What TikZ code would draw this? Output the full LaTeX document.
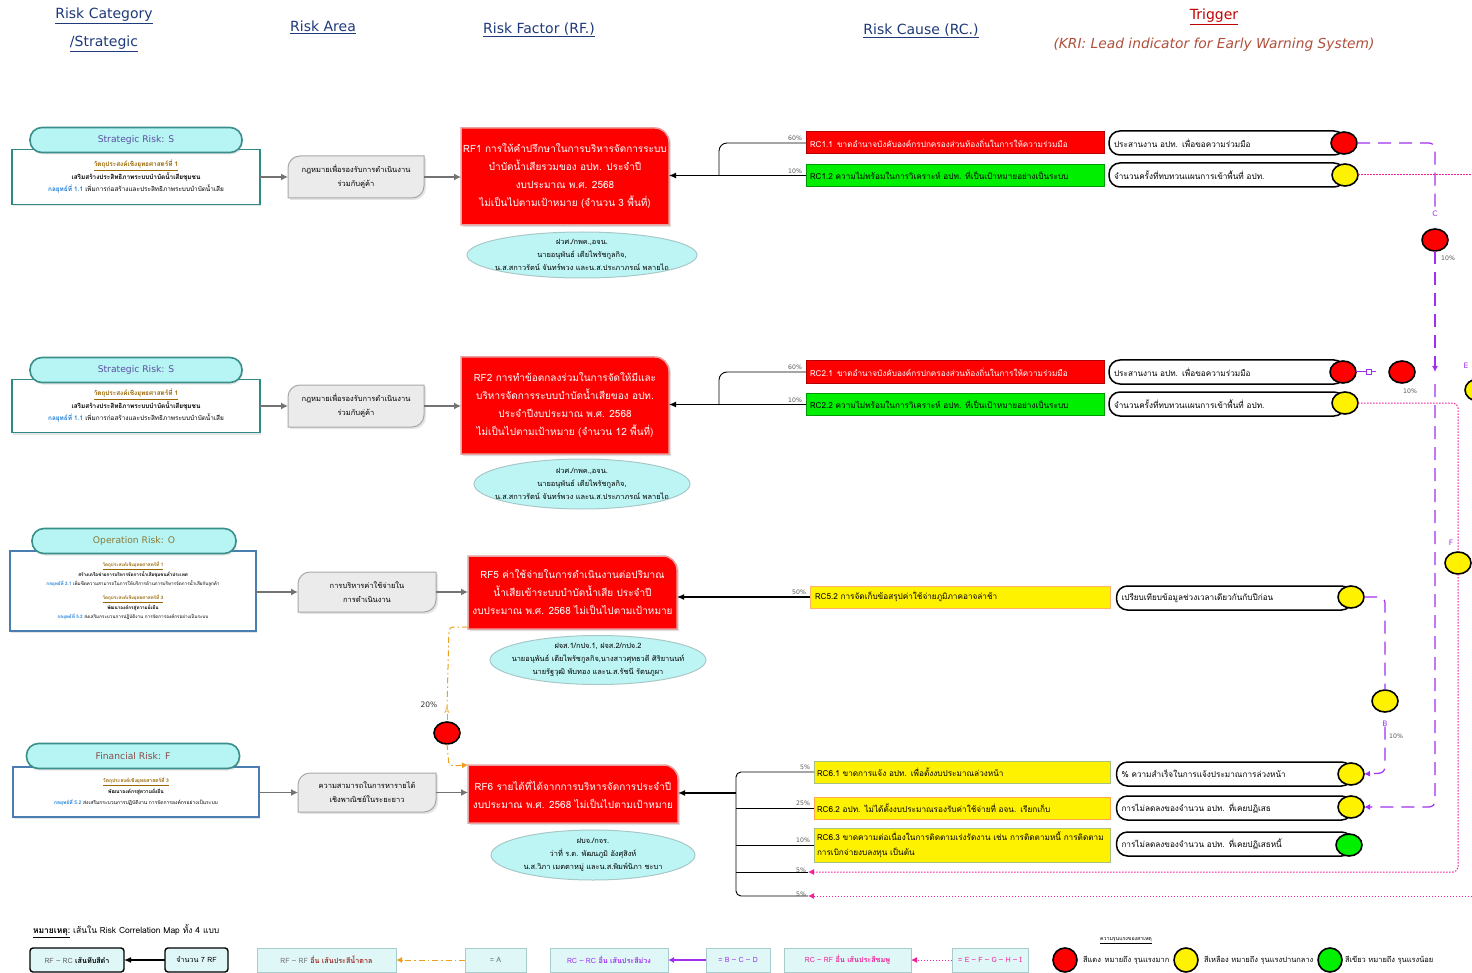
\documentclass[tikz,border=0pt]{standalone}
\usepackage{fontspec}
\setmainfont{Loma}[Script=Thai]
\newfontfamily\hfont{DejaVu Sans}
\usetikzlibrary{arrows.meta,shapes.geometric,shadows}
\definecolor{hdrblue}{HTML}{1F3A7A}
\definecolor{trigred}{HTML}{C00000}
\definecolor{kri}{HTML}{B0503C}
\definecolor{pillfill}{HTML}{B6F5F3}
\definecolor{pillborder}{HTML}{3A8F8A}
\definecolor{sboxborder}{HTML}{2E8A84}
\definecolor{oboxborder}{HTML}{4A7EB0}
\definecolor{objbrown}{HTML}{996600}
\definecolor{stratblue}{HTML}{1E7FD8}
\definecolor{areafill}{HTML}{EBEBEB}
\definecolor{areaborder}{HTML}{A8A8A8}
\definecolor{rfred}{HTML}{FF0000}
\definecolor{rfborder}{HTML}{E8A0A0}
\definecolor{ellfill}{HTML}{BDF5F5}
\definecolor{ellborder}{HTML}{A8C8C8}
\definecolor{rcgreen}{HTML}{00EE00}
\definecolor{cgreen}{HTML}{00F000}
\definecolor{lpurple}{HTML}{A030F0}
\definecolor{lpink}{HTML}{F0209A}
\definecolor{lorange}{HTML}{F0A020}
\definecolor{legfill}{HTML}{DFF7F7}
\definecolor{legborder}{HTML}{A8CCCC}
\definecolor{brownred}{HTML}{A0302A}
\definecolor{stxt}{HTML}{5E4FA2}
\definecolor{otxt}{HTML}{8A7A3A}
\definecolor{ftxt}{HTML}{8B4A4A}
\definecolor{olivebd}{HTML}{A8C080}
\pgfdeclarelayer{bg}
\pgfdeclarelayer{bgbottom}
\pgfsetlayers{bgbottom,bg,main}
\newcommand\rfshape[1]{\path[fill=rfred,draw=rfborder,line width=1.5pt,drop shadow={opacity=0.25,shadow xshift=2pt,shadow yshift=-2pt}] (#1.south west) -- (#1.north west) -- ([xshift=-14pt]#1.north east) arc[start angle=90,end angle=0,radius=14pt] -- (#1.south east) -- cycle;}
\newcommand\areashape[1]{\path[fill=areafill,draw=areaborder,line width=1pt,drop shadow={opacity=0.2,shadow xshift=2pt,shadow yshift=-2pt}] (#1.south west) -- ([yshift=-12pt]#1.north west) arc[start angle=180,end angle=90,radius=12pt] -- (#1.north east) -- ([yshift=12pt]#1.south east) arc[start angle=0,end angle=-90,radius=12pt] -- cycle;}
\tikzset{
 hdr/.style={font=\hfont\fontsize{14}{16}\selectfont,text=hdrblue},
 pill/.style={draw=pillborder,line width=1.6pt,fill=pillfill,rounded corners=12pt,minimum width=212pt,minimum height=25pt,font=\hfont\fontsize{9.2}{11}\selectfont,drop shadow={opacity=0.2,shadow xshift=1pt,shadow yshift=-2pt}},
 sbox/.style={draw=sboxborder,line width=1.4pt,fill=white,align=center,font=\fontsize{6.4}{12.5}\selectfont,drop shadow={opacity=0.2,shadow xshift=1pt,shadow yshift=-2pt}},
 obox/.style={sbox,draw=oboxborder,font=\fontsize{4.6}{9.6}\selectfont},
 area/.style={align=center,font=\fontsize{7.5}{14}\selectfont,minimum width=136pt,minimum height=42pt},
 rftext/.style={align=center,text=white,font=\fontsize{10}{18}\selectfont},
 ell/.style={ellipse,fill=ellfill,draw=ellborder,line width=1pt},
 elltext/.style={align=center,font=\fontsize{7.4}{13}\selectfont},
 rcbox/.style={draw=black!25,line width=1pt,minimum height=22pt,minimum width=298pt,text width=290pt,align=left,font=\fontsize{8.2}{15}\selectfont},
 trig/.style={draw=black,line width=1.5pt,fill=white,rounded corners=11pt,minimum width=236pt,minimum height=24pt,text width=226pt,align=left,font=\fontsize{8.2}{10}\selectfont},
 tc/.style={ellipse,draw=black,line width=1.6pt,minimum width=26pt,minimum height=22pt},
 pct/.style={font=\hfont\fontsize{6.2}{7}\selectfont,text=black!65},
 garrow/.style={draw=black!55,line width=1.2pt,-{Latex[length=7pt,width=7pt]}},
 barrow/.style={draw=black,line width=1.2pt,-{Latex[length=7pt,width=6pt]}},
 bline/.style={draw=black,line width=0.9pt},
 purp/.style={draw=lpurple,line width=1.2pt,dash pattern=on 13pt off 8pt},
 pinkd/.style={draw=lpink,line width=1pt,dash pattern=on 1.5pt off 1.5pt},
 orng/.style={draw=lorange,line width=1pt,dash pattern=on 6pt off 3pt on 1.5pt off 3pt},
 leg/.style={fill=legfill,draw=legborder,line width=1pt,minimum height=24pt,font=\fontsize{7.2}{8}\selectfont},
 lbl/.style={font=\hfont\fontsize{7.5}{8}\selectfont},
 sevtext/.style={anchor=west,font=\fontsize{7.5}{8}\selectfont},
}
\begin{document}
\begin{tikzpicture}[x=1pt,y=-1pt,every node/.style={inner sep=0pt,outer sep=0pt}]
\useasboundingbox (0,0) rectangle (1472,973);
\begin{pgfonlayer}{bgbottom}\fill[white] (0,0) rectangle (1472,973);\end{pgfonlayer}
% headers
\node[hdr] (h1) at (104,16) {\underline{Risk Category}};
\node[hdr] (h1b) at (104,44) {\underline{/Strategic}};
\node[hdr] (h2) at (323,27) {\underline{Risk Area}};
\node[hdr] (h3) at (539,30) {\underline{Risk Factor (RF.)}};
\node[hdr] (h4) at (921,31) {\underline{Risk Cause (RC.)}};
\node[hdr,text=trigred] (h5) at (1214,17) {\underline{Trigger}};
\node[hdr,text=kri,font=\hfont\itshape\fontsize{13.8}{16}\selectfont] (h5b) at (1214,45) {(KRI: Lead indicator for Early Warning System)};

% ---------- row 1
\node[sbox,minimum width=248pt,minimum height=55pt] (sb1) at (136,177) {\textcolor{objbrown}{\textbf{\underline{วัตถุประสงค์เชิงยุทธศาสตร์ที่ 1}}}\\ \textbf{เสริมสร้างประสิทธิภาพระบบบำบัดน้ำเสียชุมชน}\\ \textcolor{stratblue}{\textbf{กลยุทธ์ที่ 1.1}} เพิ่มการก่อสร้างและประสิทธิภาพระบบบำบัดน้ำเสีย};
\node[pill,text=stxt] (sp1) at (136,140) {Strategic Risk: S};
\node[area] (ra1) at (356,177) {กฎหมายเพื่อรองรับการดำเนินงาน\\ร่วมกับคู่ค้า};
\node[rftext,minimum width=208pt,minimum height=97pt] (rf1) at (565,176.5) {RF1 การให้คำปรึกษาในการบริหารจัดการระบบ\\บำบัดน้ำเสียรวมของ อปท. ประจำปี\\งบประมาณ พ.ศ. 2568\\ไม่เป็นไปตามเป้าหมาย (จำนวน 3 พื้นที่)};
\node[ell,minimum width=230pt,minimum height=46pt] (e1) at (582,255) {};
\node[elltext] (e1t) at (582,255) {ฝวศ./กพค.,อจน.\\นายอนุพันธ์ เตียไพรัชกูลกิจ,\\น.ส.สกาวรัตน์ จันทร์พวง และน.ส.ประภาภรณ์ พลายไถ};
\begin{pgfonlayer}{bg}\areashape{ra1}\rfshape{rf1}\end{pgfonlayer}
\draw[garrow] (sb1.east) -- (ra1.west);
\draw[garrow] (ra1.east) -- (ra1.east -| rf1.west);

\node[rcbox,fill=rfred,draw=red!70!black,text=white] (rc11) at (955,143) {RC1.1\enspace ขาดอำนาจบังคับองค์กรปกครองส่วนท้องถิ่นในการให้ความร่วมมือ};
\node[rcbox,fill=rcgreen,draw=green!60!black] (rc12) at (955,175.5) {RC1.2 ความไม่พร้อมในการวิเคราะห์ อปท. ที่เป็นเป้าหมายอย่างเป็นระบบ};
\coordinate (j1) at (719,176);
\draw[bline,rounded corners=8pt] (rc11.west) -| (j1);
\draw[barrow] (rc12.west) -- (rc12.west -| rf1.east);
\node[pct,anchor=south east] (p11) at ([xshift=-4pt,yshift=2pt]rc11.west) {60\%};
\node[pct,anchor=south east] (p12) at ([xshift=-4pt,yshift=2pt]rc12.west) {10\%};

\node[trig] (t11) at (1227,143) {ประสานงาน อปท. เพื่อขอความร่วมมือ};
\node[tc,fill=red] (c11) at (1344,143) {};
\node[trig] (t12) at (1227,175) {จำนวนครั้งที่ทบทวนแผนการเข้าพื้นที่ อปท.};
\node[tc,fill=yellow] (c12) at (1345,175) {};

% ---------- row 2
\node[sbox,minimum width=248pt,minimum height=53pt] (sb2) at (136,406) {\textcolor{objbrown}{\textbf{\underline{วัตถุประสงค์เชิงยุทธศาสตร์ที่ 1}}}\\ \textbf{เสริมสร้างประสิทธิภาพระบบบำบัดน้ำเสียชุมชน}\\ \textcolor{stratblue}{\textbf{กลยุทธ์ที่ 1.1}} เพิ่มการก่อสร้างและประสิทธิภาพระบบบำบัดน้ำเสีย};
\node[pill,text=stxt] (sp2) at (136,370) {Strategic Risk: S};
\node[area] (ra2) at (356,406) {กฎหมายเพื่อรองรับการดำเนินงาน\\ร่วมกับคู่ค้า};
\node[rftext,minimum width=208pt,minimum height=97pt] (rf2) at (565,405.5) {RF2 การทำข้อตกลงร่วมในการจัดให้มีและ\\บริหารจัดการระบบบำบัดน้ำเสียของ อปท.\\ประจำปีงบประมาณ พ.ศ. 2568\\ไม่เป็นไปตามเป้าหมาย (จำนวน 12 พื้นที่)};
\node[ell,minimum width=216pt,minimum height=50pt] (e2) at (582,484) {};
\node[elltext] (e2t) at (582,484) {ฝวศ./กพค.,อจน.\\นายอนุพันธ์ เตียไพรัชกูลกิจ,\\น.ส.สกาวรัตน์ จันทร์พวง และน.ส.ประภาภรณ์ พลายไถ};
\begin{pgfonlayer}{bg}\areashape{ra2}\rfshape{rf2}\end{pgfonlayer}
\draw[garrow] (sb2.east) -- (ra2.west);
\draw[garrow] (ra2.east) -- (ra2.east -| rf2.west);

\node[rcbox,fill=rfred,draw=red!70!black,text=white] (rc21) at (955,372) {RC2.1\enspace ขาดอำนาจบังคับองค์กรปกครองส่วนท้องถิ่นในการให้ความร่วมมือ};
\node[rcbox,fill=rcgreen,draw=green!60!black] (rc22) at (955,404.5) {RC2.2 ความไม่พร้อมในการวิเคราะห์ อปท. ที่เป็นเป้าหมายอย่างเป็นระบบ};
\coordinate (j2) at (719,405);
\draw[bline,rounded corners=8pt] (rc21.west) -| (j2);
\draw[barrow] (rc22.west) -- (rc22.west -| rf2.east);
\node[pct,anchor=south east] (p21) at ([xshift=-4pt,yshift=2pt]rc21.west) {60\%};
\node[pct,anchor=south east] (p22) at ([xshift=-4pt,yshift=2pt]rc22.west) {10\%};

\node[trig] (t21) at (1227,372) {ประสานงาน อปท. เพื่อขอความร่วมมือ};
\node[tc,fill=red] (c21) at (1343,372) {};
\node[trig] (t22) at (1227,404) {จำนวนครั้งที่ทบทวนแผนการเข้าพื้นที่ อปท.};
\node[tc,fill=yellow] (c22) at (1345,403) {};

% ---------- row 3 (operation)
\node[obox,minimum width=246pt,minimum height=80pt] (ob) at (133,591) {\textcolor{objbrown}{\textbf{\underline{วัตถุประสงค์เชิงยุทธศาสตร์ที่ 1}}}\\ \textbf{สร้างเครือข่ายการบริหารจัดการน้ำเสียชุมชนทั่วประเทศ}\\ \textcolor{stratblue}{\textbf{กลยุทธ์ที่ 2.1}} เพิ่มขีดความสามารถในการให้บริการด้านการบริหารจัดการน้ำเสียกับลูกค้า\\[4pt] \textcolor{objbrown}{\textbf{\underline{วัตถุประสงค์เชิงยุทธศาสตร์ที่ 3}}}\\ \textbf{พัฒนาองค์กรสู่ความยั่งยืน}\\ \textcolor{stratblue}{\textbf{กลยุทธ์ที่ 5.2}} ส่งเสริมกระบวนการปฏิบัติงาน การจัดการองค์กรอย่างเป็นระบบ};
\node[pill,text=otxt,minimum width=204pt] (op) at (134,541) {Operation Risk: O};
\node[area,minimum width=138pt,minimum height=40pt] (ra5) at (367,592) {การบริหารค่าใช้จ่ายใน\\การดำเนินงาน};
\node[rftext,minimum width=209pt,minimum height=73pt] (rf5) at (572.5,592.5) {RF5 ค่าใช้จ่ายในการดำเนินงานต่อปริมาณ\\น้ำเสียเข้าระบบบำบัดน้ำเสีย ประจำปี\\งบประมาณ พ.ศ. 2568 ไม่เป็นไปตามเป้าหมาย};
\node[ell,minimum width=216pt,minimum height=49pt] (e5) at (598,660) {};
\node[elltext] (e5t) at (598,660) {ฝจส.1/กปจ.1, ฝจส.2/กปจ.2\\นายอนุพันธ์ เตียไพรัชกูลกิจ,นางสาวศุทธวดี ศิริยานนท์\\นายรัฐวุฒิ พับทอง และน.ส.รัชนี รัตนภูผา};
\begin{pgfonlayer}{bg}\areashape{ra5}\rfshape{rf5}\end{pgfonlayer}
\draw[garrow] (ob.east |- ra5.west) -- (ra5.west);
\draw[garrow] (ra5.east) -- (ra5.east -| rf5.west);

\node[rcbox,fill=yellow,draw=orange!60,minimum width=300pt] (rc52) at (960,597) {RC5.2 การจัดเก็บข้อสรุปค่าใช้จ่ายภูมิภาคอาจล่าช้า};
\draw[barrow] (rc52.west) -- (rc52.west -| rf5.east);
\node[pct,anchor=south east] (p52) at ([xshift=-4pt,yshift=2pt]rc52.west) {50\%};
\node[trig] (t52) at (1234.5,598) {เปรียบเทียบข้อมูลช่วงเวลาเดียวกันกับปีก่อน};
\node[tc,fill=yellow] (c52) at (1351,597) {};

% ---------- row 4 (financial)
\node[obox,minimum width=246pt,minimum height=50pt,font=\fontsize{5}{11}\selectfont] (fb) at (136,792) {\textcolor{objbrown}{\textbf{\underline{วัตถุประสงค์เชิงยุทธศาสตร์ที่ 3}}}\\ \textbf{พัฒนาองค์กรสู่ความยั่งยืน}\\ \textcolor{stratblue}{\textbf{กลยุทธ์ที่ 5.2}} ส่งเสริมกระบวนการปฏิบัติงาน การจัดการองค์กรอย่างเป็นระบบ};
\node[pill,text=ftxt,minimum width=213pt] (fp) at (133,756) {Financial Risk: F};
\node[area,minimum width=138pt,minimum height=39pt] (ra6) at (367,792.5) {ความสามารถในการหารายได้\\เชิงพาณิชย์ในระยะยาว};
\node[rftext,minimum width=210pt,minimum height=58pt] (rf6) at (573,794) {RF6 รายได้ที่ได้จากการบริหารจัดการประจำปี\\งบประมาณ พ.ศ. 2568 ไม่เป็นไปตามเป้าหมาย};
\node[ell,minimum width=204pt,minimum height=50pt] (e6) at (593,855) {};
\node[elltext] (e6t) at (593,855) {ฝบจ./กจร.\\ว่าที่ ร.ต. พัฒนภูมิ อังศุสิงห์\\น.ส.วิภา เมตตาหมู่ และน.ส.พิมพ์นิภา ชะบา};
\begin{pgfonlayer}{bg}\areashape{ra6}\rfshape{rf6}\end{pgfonlayer}
\draw[garrow] (fb.east |- ra6.west) -- (ra6.west);
\draw[garrow] (ra6.east) -- (ra6.east -| rf6.west);

\node[rcbox,fill=yellow,draw=olivebd,minimum width=296pt] (rc61) at (962,772) {RC6.1 ขาดการแจ้ง อปท. เพื่อตั้งงบประมาณล่วงหน้า};
\node[rcbox,fill=yellow,draw=orange!70,minimum width=296pt] (rc62) at (962,808) {RC6.2 อปท. ไม่ได้ตั้งงบประมาณรองรับค่าใช้จ่ายที่ อจน. เรียกเก็บ};
\node[rcbox,fill=yellow,draw=olivebd,minimum width=296pt,minimum height=34pt] (rc63) at (962,845) {RC6.3 ขาดความต่อเนื่องในการติดตามเร่งรัดงาน เช่น การติดตามหนี้ การติดตาม\\การเบิกจ่ายงบลงทุน เป็นต้น};
\coordinate (k1) at (808,872);
\coordinate (k2) at (808,896);
\coordinate (j6) at (736,793);
\draw[bline,rounded corners=5pt] (rc61.west) -| (j6);
\draw[bline,rounded corners=5pt] (j6) |- (k2);
\draw[bline] (rc62.west) -- (rc62.west -| j6);
\draw[bline] (rc63.west) -- (rc63.west -| j6);
\draw[bline] (k1) -- (k1 -| j6);
\draw[barrow,line width=1.5pt] (j6) -- (rf6.east |- j6);
\node[pct,anchor=south east] (p61) at ([xshift=-4pt,yshift=2pt]rc61.west) {5\%};
\node[pct,anchor=south east] (p62) at ([xshift=-4pt,yshift=2pt]rc62.west) {25\%};
\node[pct,anchor=south east] (p63) at ([xshift=-4pt,yshift=2pt]rc63.west) {10\%};
\node[pct,anchor=south east] (p64) at ([xshift=-2pt,yshift=-1pt]k1) {5\%};
\node[pct,anchor=south east] (p65) at ([xshift=-2pt,yshift=-1pt]k2) {5\%};

\node[trig] (t61) at (1234.5,774) {\% ความสำเร็จในการแจ้งประมาณการล่วงหน้า};
\node[tc,fill=yellow] (c61) at (1351,774) {};
\node[trig] (t62) at (1234.5,808) {การไม่ลดลงของจำนวน อปท. ที่เคยปฏิเสธ};
\node[tc,fill=yellow] (c62) at (1351,807) {};
\node[trig] (t63) at (1234.5,844) {การไม่ลดลงของจำนวน อปท. ที่เคยปฏิเสธหนี้};
\node[tc,fill=cgreen] (c63) at (1349,845) {};

% ---------- correlation lines
% A
\node[tc,fill=red] (cA) at (447,733) {};
\node[lbl,text=lorange] (lA) at (447,711) {A};
\node[lbl,text=black!80] (pA) at (429,705) {20\%};
\draw[orng,rounded corners=4pt] (rf5.south west) ++(0,-2) -- (449,627) -- (lA.north);
\draw[orng] (lA.south) -- (cA.north);
\draw[orng,rounded corners=4pt,-{Latex[length=6pt,width=6pt]}] (cA.south) -- (449,766) -- (rf6.north west);
% B
\node[tc,fill=yellow] (cB) at (1385,701) {};
\node[lbl,text=lpurple] (lB) at (1385,724) {B};
\node[pct] (pB) at (1396,736) {10\%};
\draw[purp,rounded corners=6pt] (c52.east) -- (1385,597) -- (cB.north);
\draw[purp,rounded corners=6pt,-{Latex[length=6pt,width=6pt]}] (lB.south) -- (1385,773) -- (c61.east);
% C
\node[tc,fill=red] (cC) at (1435,240) {};
\node[lbl,text=lpurple] (lC) at (1435,214) {C};
\node[pct] (pC) at (1448,258) {10\%};
\draw[purp,rounded corners=6pt] (c11.east) -- (1435,143) -- (lC.north);
\draw[purp,-{Latex[length=6pt,width=6pt]}] (cC.south) -- (1435,372);
% D
\node[tc,fill=red] (cD) at (1402,372) {};
\node[pct] (pD) at (1410,391) {10\%};
\node[draw=lpurple,line width=0.8pt,minimum width=5pt,minimum height=5pt] (sqD) at (1369,372) {};
\draw[lpurple,line width=1pt] (c21.east) -- (sqD.west);
\draw[lpurple,line width=1pt] (sqD.east) -- (1376,372);
\draw[purp,rounded corners=6pt,-{Latex[length=6pt,width=6pt]}] (1435,384) -- (1435,807) -- (c62.east);
% E
\node[tc,fill=yellow] (cE) at (1478,390) {};
\node[lbl,text=lpurple] (lE) at (1466,366) {E};
\draw[pinkd] (c12.east) -- (1472,175);
\draw[pinkd,-{Latex[length=6pt,width=6pt]}] (1472,896) -- (k2);
% F
\node[tc,fill=yellow] (cF) at (1458,563) {};
\node[lbl,text=lpurple] (lF) at (1451,543) {F};
\draw[pinkd,rounded corners=5pt] (c22.east) -- (1458,403) -- (cF.north);
\draw[pinkd,rounded corners=5pt,-{Latex[length=6pt,width=6pt]}] (cF.south) -- (1458,872) -- (k1);

% ---------- legend
\node[anchor=west,font=\fontsize{8.5}{10}\selectfont] (note) at (33,931) {\textbf{\underline{หมายเหตุ:}} เส้นใน Risk Correlation Map ทั้ง 4 แบบ};
\node[leg,draw=black,line width=1.4pt,rounded corners=3pt,minimum width=94pt] (L1) at (77,960) {\textcolor{black!60}{RF – RC} \textbf{เส้นทึบสีดำ}};
\node[leg,draw=black,line width=1.4pt,rounded corners=3pt,minimum width=63pt] (L2) at (196.5,960) {จำนวน 7 RF};
\draw[barrow] (L2.west) -- (L1.east);
\node[leg,minimum width=139pt] (L3) at (326.5,960) {\textcolor{black!55}{RF – RF} \textcolor{brownred}{\textbf{อื่น เส้นประสีน้ำตาล}}};
\node[leg,minimum width=61pt,text=black!55] (L4) at (495.5,960) {= A};
\draw[orng,-{Latex[length=6pt,width=6pt]}] (L4.west) -- (L3.east);
\node[leg,minimum width=118pt,text=lpurple] (L5) at (609,960) {RC – RC \textbf{อื่น เส้นประสีม่วง}};
\node[leg,minimum width=64pt,text=lpurple] (L6) at (738,960) {= B – C – D};
\draw[draw=lpurple,line width=1.2pt,-{Latex[length=6pt,width=6pt]}] (L6.west) -- (L5.east);
\node[leg,minimum width=127pt,text=lpink] (L7) at (847.5,960) {RC – RF \textbf{อื่น เส้นประสีชมพู}};
\node[leg,minimum width=76pt,text=lpink] (L8) at (990,960) {= E – F – G – H – I};
\draw[pinkd,-{Latex[length=6pt,width=6pt]}] (L8.west) -- (L7.east);
\node[font=\fontsize{5.2}{7}\selectfont] (sev) at (1126,941) {\underline{ความรุนแรงของสาเหตุ}};
\node[tc,fill=red,minimum width=24pt,minimum height=24pt] (s1) at (1065,960) {};
\node[sevtext] (s1t) at (1083,960) {สีแดง\enspace หมายถึง รุนแรงมาก};
\node[tc,fill=yellow,minimum width=24pt,minimum height=24pt] (s2) at (1186,960) {};
\node[sevtext] (s2t) at (1204,960) {สีเหลือง หมายถึง รุนแรงปานกลาง};
\node[tc,fill=cgreen,minimum width=24pt,minimum height=24pt] (s3) at (1330,960) {};
\node[sevtext] (s3t) at (1345,960) {สีเขียว หมายถึง รุนแรงน้อย};
\end{tikzpicture}
\end{document}
